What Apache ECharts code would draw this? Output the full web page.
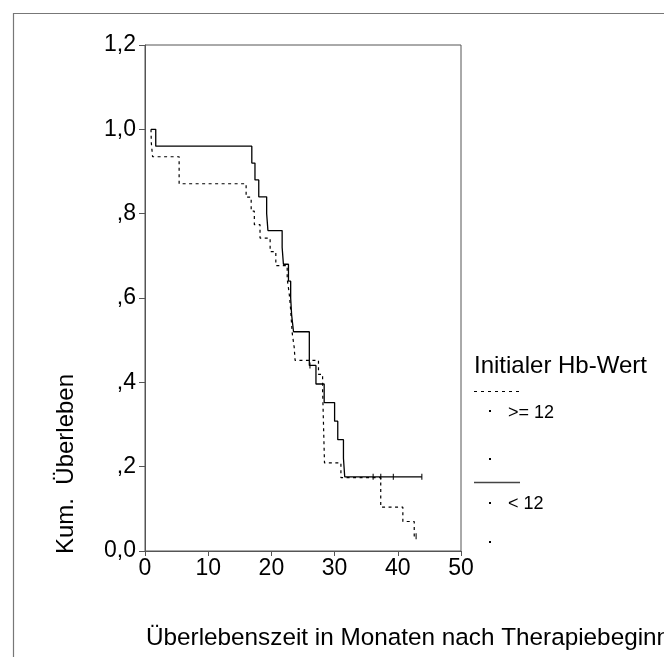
<!DOCTYPE html>
<html>
<head>
<meta charset="utf-8">
<script src="https://cdn.jsdelivr.net/npm/echarts@6/dist/echarts.min.js"></script>
<style>
  html, body { margin: 0; padding: 0; background: #fff; }
  #chart { width: 664px; height: 657px; }
</style>
</head>
<body>
<div id="chart"></div>
<script>
// ---- data ----
// Group "< 12" (solid): time (months) and cumulative survival from that time on
var solidTimes  = [0.95, 1.7, 16.9, 17.4, 18.0, 19.25, 19.45, 21.7, 21.9, 22.7, 23.05, 23.2, 23.5, 26.0, 27.05, 28.35, 30.0, 30.5, 31.4, 31.6, 43.8];
var solidValues = [1.0, 0.96, 0.92, 0.88, 0.84, 0.80, 0.76, 0.72, 0.68, 0.64, 0.60, 0.56, 0.52, 0.44, 0.396, 0.352, 0.308, 0.264, 0.22, 0.176, 0.176];
// censored observations of the solid group
var solidCensorTimes  = [26.1, 36.1, 37.3, 39.3, 43.8];
var solidCensorValues = [0.44, 0.176, 0.176, 0.176, 0.176];

// Group ">= 12" (dashed)
var dashedTimes  = [0.95, 1.0, 1.2, 5.4, 16.0, 16.8, 17.3, 18.2, 19.8, 20.7, 22.5, 22.8, 23.0, 23.15, 23.3, 23.6, 23.75, 27.45, 28.1, 28.4, 31.0, 37.3, 40.8, 42.6, 42.9];
var dashedValues = [1.0, 0.968, 0.935, 0.871, 0.839, 0.806, 0.774, 0.742, 0.710, 0.677, 0.645, 0.613, 0.581, 0.548, 0.516, 0.484, 0.452, 0.419, 0.384, 0.209, 0.174, 0.104, 0.070, 0.035, 0.035];
// censored observations of the dashed group
var dashedCensorTimes  = [42.9];
var dashedCensorValues = [0.035];

// tick labels
var xTickLabels = ['0', '10', '20', '30', '40', '50'];
var yTickLabels = ['0,0', ',2', ',4', ',6', ',8', '1,0', '1,2'];

// text
var xTitle = 'Überlebenszeit in Monaten nach Therapiebeginn';
var yTitle = 'Kum.  Überleben';
var legendTitle = 'Initialer Hb-Wert';
var groupNames = ['>= 12', '< 12'];

// ---- build ----
function pairs(ts, vs) {
  var out = [];
  for (var i = 0; i < ts.length; i++) out.push([ts[i], vs[i]]);
  return out;
}

var FONT = '"Liberation Sans", Arial, Helvetica, sans-serif';
var chart = echarts.init(document.getElementById('chart'), null, { renderer: 'canvas' });

var dotStyle = { fill: '#000' };
var option = {
  animation: false,
  backgroundColor: '#fff',
  textStyle: { fontFamily: FONT },
  grid: { left: 145, top: 45, width: 316, height: 506, show: true, borderColor: '#555', borderWidth: 1, backgroundColor: 'transparent' },
  xAxis: {
    type: 'value', min: 0, max: 50, interval: 10,
    axisLine: { show: true, lineStyle: { color: '#555', width: 1 } },
    axisTick: { show: true, inside: false, length: 5, lineStyle: { color: '#555' } },
    axisLabel: { fontSize: 23, color: '#000', fontFamily: FONT, margin: 6,
      formatter: function (v) { return xTickLabels[Math.round(v / 10)]; } },
    splitLine: { show: false }
  },
  yAxis: {
    type: 'value', min: 0, max: 1.2, interval: 0.2,
    axisLine: { show: true, lineStyle: { color: '#555', width: 1 } },
    axisTick: { show: true, inside: false, length: 6, lineStyle: { color: '#555' } },
    axisLabel: { fontSize: 23, color: '#000', fontFamily: FONT, margin: 9,
      formatter: function (v) { return yTickLabels[Math.round(v / 0.2)]; } },
    splitLine: { show: false }
  },
  series: [
    {
      name: groupNames[0], type: 'line', step: 'end', symbol: 'none',
      data: pairs(dashedTimes, dashedValues),
      lineStyle: { color: '#000', width: 1.2, type: [3, 3.5] }
    },
    {
      name: groupNames[1], type: 'line', step: 'end', symbol: 'none',
      data: pairs(solidTimes, solidValues),
      lineStyle: { color: '#000', width: 1.3, type: 'solid' }
    },
    {
      name: 'censored < 12', type: 'scatter', symbol: 'rect', symbolSize: [1.3, 6],
      data: pairs(solidCensorTimes, solidCensorValues),
      itemStyle: { color: '#000' }
    },
    {
      name: 'censored >= 12', type: 'scatter', symbol: 'rect', symbolSize: [1.3, 6],
      data: pairs(dashedCensorTimes, dashedCensorValues),
      itemStyle: { color: '#000' }
    }
  ],
  graphic: [
    // outer frame
    { type: 'rect', shape: { x: 13.5, y: 13.5, width: 700, height: 700 }, style: { fill: 'none', stroke: '#777', lineWidth: 1.2 }, silent: true },
    // axis titles
    { type: 'text', x: 146, y: 638, style: { text: xTitle, font: '24.3px ' + FONT, fill: '#000', textAlign: 'left', textVerticalAlign: 'middle' } },
    { type: 'text', x: 66, y: 464, rotation: Math.PI / 2, style: { text: yTitle, font: '24px ' + FONT, fill: '#000', textAlign: 'center', textVerticalAlign: 'middle' } },
    // legend
    { type: 'text', x: 474, y: 366, style: { text: legendTitle, font: '24px ' + FONT, fill: '#000', textAlign: 'left', textVerticalAlign: 'middle' } },
    { type: 'line', shape: { x1: 474, y1: 391.5, x2: 519, y2: 391.5 }, style: { stroke: '#000', lineWidth: 1, lineDash: [3, 4] } },
    { type: 'rect', shape: { x: 489, y: 410, width: 2, height: 2 }, style: dotStyle },
    { type: 'text', x: 508, y: 413, style: { text: groupNames[0], font: '18px ' + FONT, fill: '#000', textAlign: 'left', textVerticalAlign: 'middle' } },
    { type: 'rect', shape: { x: 489, y: 458, width: 2, height: 2 }, style: dotStyle },
    { type: 'line', shape: { x1: 474, y1: 482.5, x2: 520, y2: 482.5 }, style: { stroke: '#444', lineWidth: 1.3 } },
    { type: 'rect', shape: { x: 489, y: 502, width: 2, height: 2 }, style: dotStyle },
    { type: 'text', x: 508, y: 504, style: { text: groupNames[1], font: '18px ' + FONT, fill: '#000', textAlign: 'left', textVerticalAlign: 'middle' } },
    { type: 'rect', shape: { x: 489, y: 541, width: 2, height: 2 }, style: dotStyle }
  ]
};
chart.setOption(option);
</script>
</body>
</html>
